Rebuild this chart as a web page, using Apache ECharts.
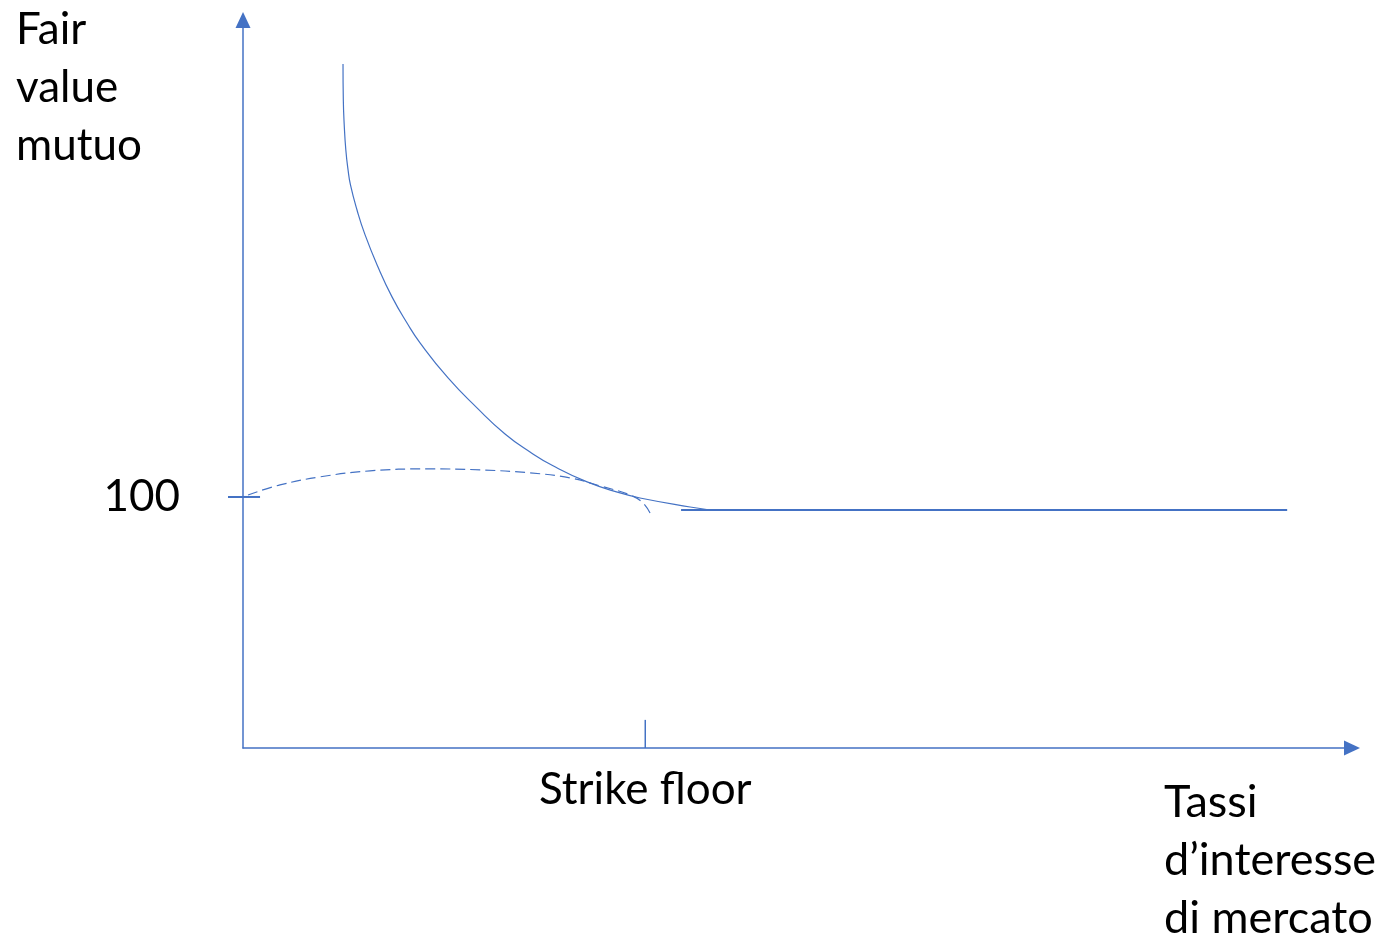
<!DOCTYPE html>
<html>
<head>
<meta charset="utf-8">
<script src="https://cdn.jsdelivr.net/npm/echarts@6/dist/echarts.min.js"></script>
<style>html,body{margin:0;padding:0;background:#fff}#c{width:1381px;height:936px}</style>
</head>
<body>
<div id="c"></div>
<script>
// Axis texts
const yAxisTitle = 'Fair\nvalue\nmutuo';
const xAxisTitle = 'Tassi\nd\u2019interesse\ndi mercato';
const yTickLabels = [100];          // value of the marked level
const xTickLabels = ['Strike floor'];
const strike = 3.99;                 // strike position on the rate axis
const parValue = 100;

// Fair value of the loan with floor (solid curve) [rate, value]
const fairValueCurve = [
  [0.992, 272.5], [0.995, 258.2], [1.004, 248.2], [1.020, 238.2], [1.042, 230.3],
  [1.066, 224.3], [1.131, 214.3], [1.210, 204.5], [1.339, 191.6], [1.478, 179.7],
  [1.627, 169.3], [1.756, 161.4], [2.034, 147.4], [2.321, 135.5], [2.599, 125.1],
  [2.847, 117.9], [3.075, 112.4], [3.413, 106.0], [3.740, 101.6], [3.938, 99.6],
  [4.435, 96.0], [4.633, 94.8]
];
// Flat part at high rates
const flatLine = [[4.345, 94.8], [10.357, 94.8]];
// Dashed curve (loan without floor)
const dashedCurve = [
  [0.050, 100.8], [0.367, 104.8], [0.764, 108.0], [1.260, 110.4], [1.825, 111.2],
  [2.351, 110.8], [2.847, 109.6], [3.244, 107.6], [3.542, 104.4], [3.839, 100.8],
  [3.968, 97.6], [4.038, 93.6]
];
// Tick marks (inner part of the 100 tick, strike tick)
const yTickMark = [[0, parValue], [0.169, parValue]];
const xTickMark = [[strike, 0], [strike, 11.2]];

const blue = '#4472C4';
const font = 'Lato, "Open Sans", sans-serif';

const chart = echarts.init(document.getElementById('c'), null, {renderer: 'canvas'});
chart.setOption({
  backgroundColor: '#fff',
  animation: false,
  title: [
    {text: yAxisTitle, left: 11, top: -4,
     textStyle: {fontFamily: font, fontSize: 44, fontWeight: 'normal', color: '#000', lineHeight: 58}},
    {text: xAxisTitle, left: 1159, top: 768,
     textStyle: {fontFamily: font, fontSize: 45, fontWeight: 'normal', color: '#000', lineHeight: 58}}
  ],
  grid: {left: 243, top: 20, right: 29, bottom: 188, containLabel: false},
  xAxis: {
    type: 'value', min: 0, max: 11,
    splitLine: {show: false},
    axisLine: {show: true, lineStyle: {color: blue, width: 1.5}, symbol: ['none', 'triangle'], symbolSize: [15, 16]},
    axisTick: {show: false},
    axisLabel: {
      customValues: [strike], margin: 20,
      formatter: () => xTickLabels[0],
      fontFamily: font, fontSize: 44, color: '#000'
    }
  },
  yAxis: {
    type: 'value', min: 0, max: 290,
    splitLine: {show: false},
    axisLine: {show: true, lineStyle: {color: blue, width: 1.5}, symbol: ['none', 'triangle'], symbolSize: [15, 16]},
    axisTick: {show: true, customValues: yTickLabels, length: 15, inside: false,
               lineStyle: {color: blue, width: 2}},
    axisLabel: {
      customValues: yTickLabels, margin: 63,
      fontFamily: font, fontSize: 44, color: '#000'
    }
  },
  series: [
    {type: 'line', data: fairValueCurve, smooth: 0.5, showSymbol: false,
     lineStyle: {color: blue, width: 1.2}},
    {type: 'line', data: flatLine, showSymbol: false,
     lineStyle: {color: blue, width: 2}},
    {type: 'line', data: dashedCurve, smooth: 0.4, showSymbol: false,
     lineStyle: {color: blue, width: 1.2, type: [10, 5]}},
    {type: 'line', data: yTickMark, showSymbol: false, clip: false,
     lineStyle: {color: blue, width: 2}},
    {type: 'line', data: xTickMark, showSymbol: false, clip: false,
     lineStyle: {color: blue, width: 1.5}}
  ]
});
</script>
</body>
</html>
